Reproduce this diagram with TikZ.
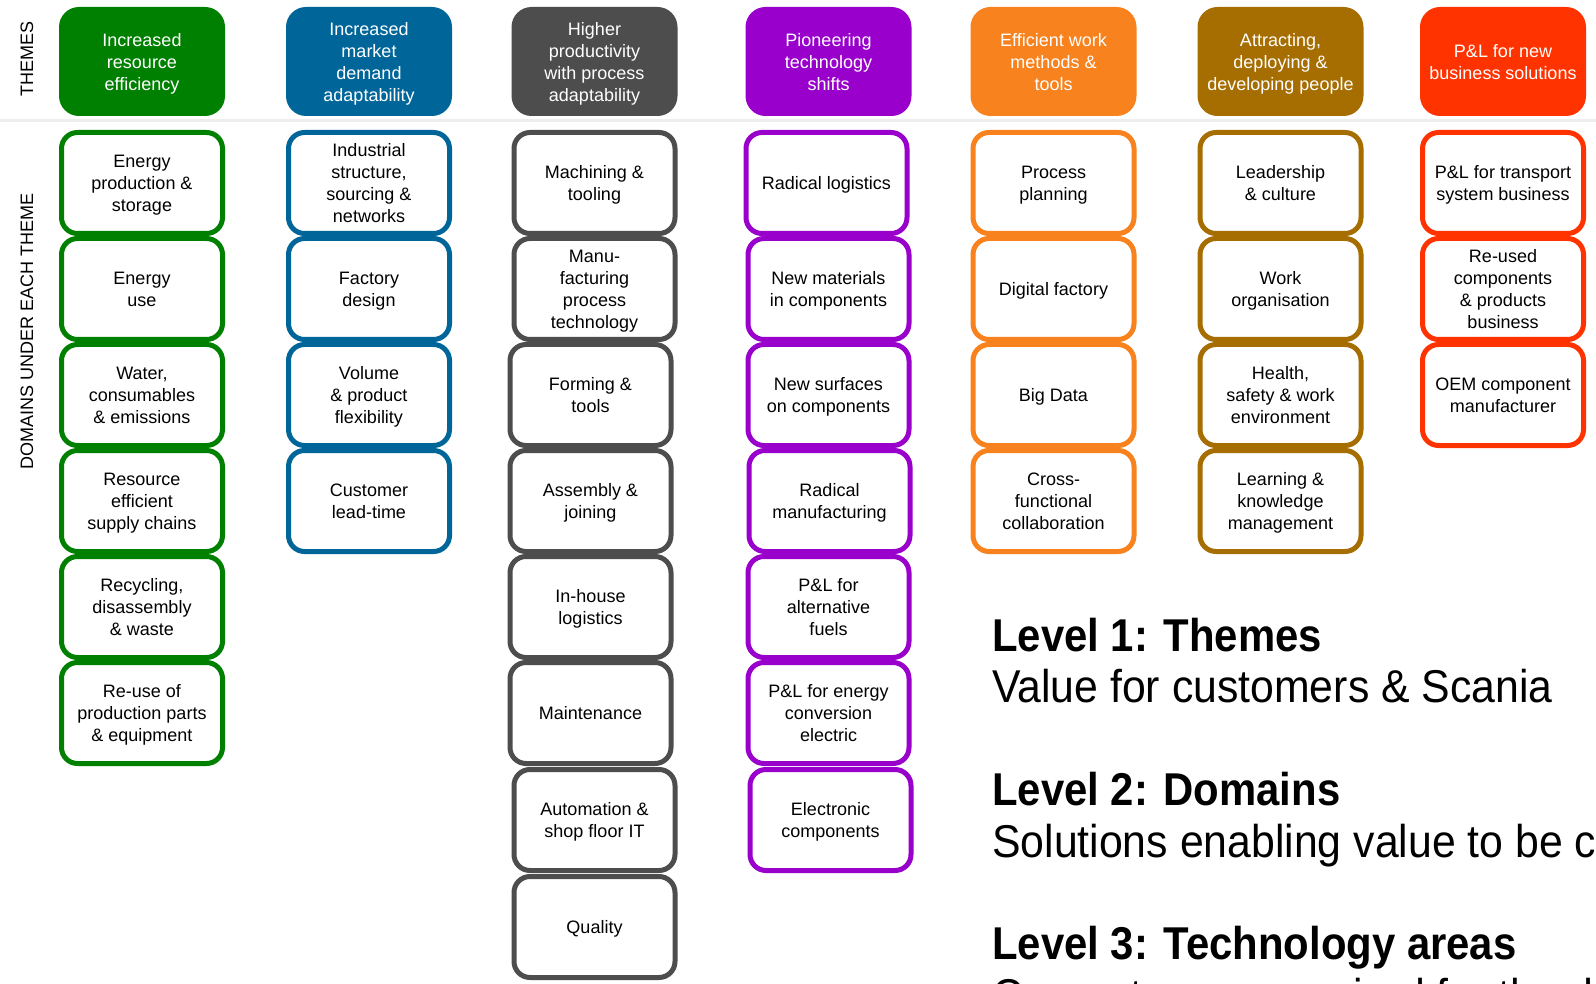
\documentclass[tikz,border=0pt]{standalone}
\usepackage{fontspec}
\setmainfont{Liberation Sans}
\newfontfamily\levelfont[FakeStretch=0.93]{Liberation Sans}
\newfontfamily\levelboldfont[FakeStretch=0.91]{Liberation Sans Bold}

\definecolor{cgreen}{HTML}{008000}
\definecolor{cblue}{HTML}{00669A}
\definecolor{cgray}{HTML}{4D4D4D}
\definecolor{cpurple}{HTML}{9900CC}
\definecolor{corange}{HTML}{F7821E}
\definecolor{cbrown}{HTML}{A66D00}
\definecolor{cred}{HTML}{FF3300}
\definecolor{rulegray}{HTML}{EEEEEE}

\begin{document}
\begin{tikzpicture}[x=1pt,y=-1pt,
  themebox/.style={fill=#1, draw=none, rounded corners=20pt,
    minimum width=166pt, minimum height=109pt, inner sep=0pt, text depth=0pt,
    align=center, text=white, font=\fontsize{18}{22}\selectfont},
  dombox/.style={draw=#1, fill=white, line width=5pt, rounded corners=16pt,
    minimum width=161pt, minimum height=101pt, inner sep=0pt, text depth=0pt,
    align=center, text=black, font=\fontsize{18}{22}\selectfont},
  sidelabel/.style={rotate=90, font=\fontsize{18}{22}\selectfont, inner sep=0pt},
  levelhead/.style={anchor=base west, inner sep=0pt,
    font=\levelboldfont\fontsize{46}{50}\selectfont},
  leveltext/.style={anchor=base west, inner sep=0pt,
    font=\levelfont\fontsize{46}{50}\selectfont}]

\useasboundingbox (0,0) rectangle (1596,984);
\clip (0,0) rectangle (1596,984);
\fill[white] (0,0) rectangle (1596,984);

% separator between themes and domains
\draw[rulegray, line width=3pt] (0,121) -- (1596,121);

% side labels
\node[sidelabel] (lblthemes) at (27,59) {THEMES};
\node[sidelabel] (lbldomains) at (27,331) {DOMAINS UNDER EACH THEME};

% ---- themes ----
\node[themebox=cgreen]  (t1) at (142,61.5)  {Increased\\resource\\efficiency};
\node[themebox=cblue]   (t2) at (369,61.5)  {Increased\\market\\demand\\adaptability};
\node[themebox=cgray]   (t3) at (594.5,61.5) {Higher\\productivity\\with process\\adaptability};
\node[themebox=cpurple] (t4) at (828.5,61.5) {Pioneering\\technology\\shifts};
\node[themebox=corange] (t5) at (1053.5,61.5) {Efficient work\\methods \&\\tools};
\node[themebox=cbrown]  (t6) at (1280.5,61.5) {Attracting,\\deploying \&\\developing people};
\node[themebox=cred]    (t7) at (1503,61.5) {P\&L for new\\business solutions};

% ---- domains: increased resource efficiency ----
\node[dombox=cgreen] (d11) at (142,183) {Energy\\production \&\\storage};
\node[dombox=cgreen] (d12) at (142,289) {Energy\\use};
\node[dombox=cgreen] (d13) at (142,395) {Water,\\consumables\\\& emissions};
\node[dombox=cgreen] (d14) at (142,501) {Resource\\efficient\\supply chains};
\node[dombox=cgreen] (d15) at (142,607) {Recycling,\\disassembly\\\& waste};
\node[dombox=cgreen] (d16) at (142,713) {Re-use of\\production parts\\\& equipment};

% ---- domains: market demand adaptability ----
\node[dombox=cblue] (d21) at (369,183) {Industrial\\structure,\\sourcing \&\\networks};
\node[dombox=cblue] (d22) at (369,289) {Factory\\design};
\node[dombox=cblue] (d23) at (369,395) {Volume\\\& product\\flexibility};
\node[dombox=cblue] (d24) at (369,501) {Customer\\lead-time};

% ---- domains: productivity ----
\node[dombox=cgray] (d31) at (594.5,183) {Machining \&\\tooling};
\node[dombox=cgray] (d32) at (594.5,289) {Manu-\\facturing\\process\\technology};
\node[dombox=cgray] (d33) at (590.5,395) {Forming \&\\tools};
\node[dombox=cgray] (d34) at (590.5,501) {Assembly \&\\joining};
\node[dombox=cgray] (d35) at (590.5,607) {In-house\\logistics};
\node[dombox=cgray] (d36) at (590.5,713) {Maintenance};
\node[dombox=cgray] (d37) at (594.5,820) {Automation \&\\shop floor IT};
\node[dombox=cgray] (d38) at (594.5,927) {Quality};

% ---- domains: technology shifts ----
\node[dombox=cpurple] (d41) at (826.5,183) {Radical logistics};
\node[dombox=cpurple] (d42) at (828.5,289) {New materials\\in components};
\node[dombox=cpurple] (d43) at (828.5,395) {New surfaces\\on components};
\node[dombox=cpurple] (d44) at (829.5,501) {Radical\\manufacturing};
\node[dombox=cpurple] (d45) at (828.5,607) {P\&L for\\alternative\\fuels};
\node[dombox=cpurple] (d46) at (828.5,713) {P\&L for energy\\conversion\\electric};
\node[dombox=cpurple] (d47) at (830.5,820) {Electronic\\components};

% ---- domains: work methods ----
\node[dombox=corange] (d51) at (1053.5,183) {Process\\planning};
\node[dombox=corange] (d52) at (1053.5,289) {Digital factory};
\node[dombox=corange] (d53) at (1053.5,395) {Big Data};
\node[dombox=corange] (d54) at (1053.5,501) {Cross-\\functional\\collaboration};

% ---- domains: people ----
\node[dombox=cbrown] (d61) at (1280.5,183) {Leadership\\\& culture};
\node[dombox=cbrown] (d62) at (1280.5,289) {Work\\organisation};
\node[dombox=cbrown] (d63) at (1280.5,395) {Health,\\safety \& work\\environment};
\node[dombox=cbrown] (d64) at (1280.5,501) {Learning \&\\knowledge\\management};

% ---- domains: new business ----
\node[dombox=cred] (d71) at (1503,183) {P\&L for transport\\system business};
\node[dombox=cred] (d72) at (1503,289) {Re-used\\components\\\& products\\business};
\node[dombox=cred] (d73) at (1503,395) {OEM component\\manufacturer};

% ---- level legend ----
\node[levelhead] (lv1) at (992,651) {Level 1: Themes};
\node[leveltext] (lv1t) at (992,702) {Value for customers \& Scania};
\node[levelhead] (lv2) at (992,805) {Level 2: Domains};
\node[leveltext] (lv2t) at (992,857) {Solutions enabling value to be created};
\node[levelhead] (lv3) at (992,959) {Level 3: Technology areas};
\node[leveltext] (lv3t) at (992,1011) {Competences required for the domains};

\end{tikzpicture}
\end{document}
